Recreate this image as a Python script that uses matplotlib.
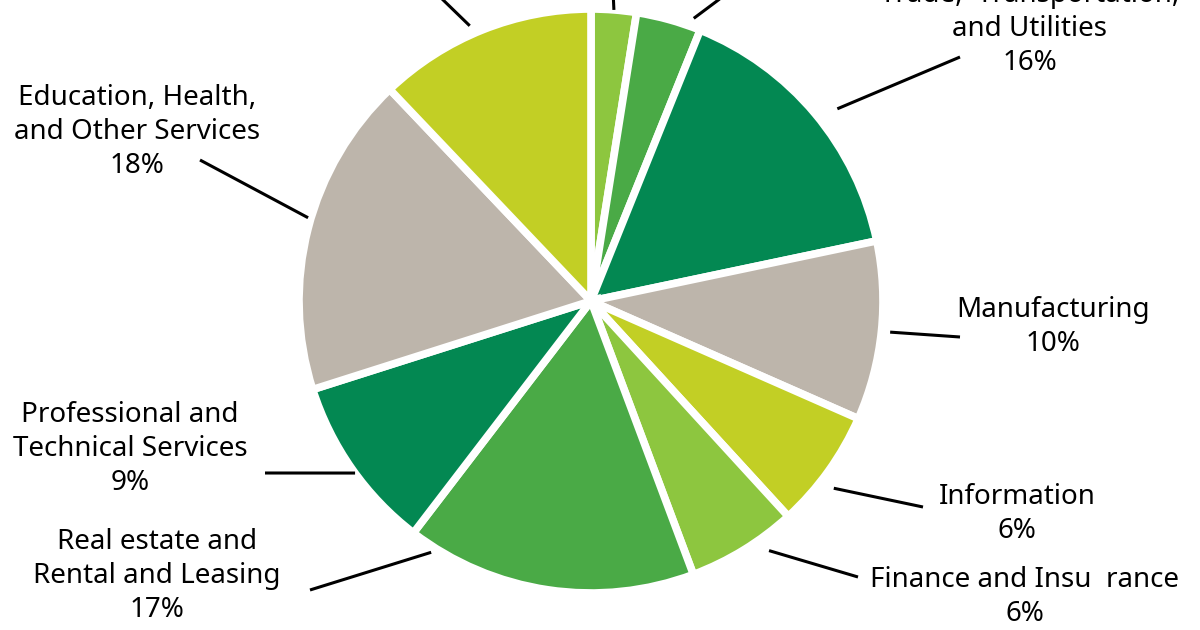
import numpy as np
import matplotlib.pyplot as plt

plt.rcParams['font.family'] = ['Noto Sans', 'DejaVu Sans']

# slices, clockwise from 12 o'clock (top three labels fall outside the crop)
sectors = ['', '',
           'Trade,  Transportation,\nand Utilities', 'Manufacturing', 'Information',
           'Finance and Insu  rance', 'Real estate and\nRental and Leasing',
           'Professional and\nTechnical Services', 'Education, Health,\nand Other Services',
           '']
shares = [2.5, 3.6, 15.6, 9.9, 6.6, 6.1, 16.1, 9.7, 17.8, 12.1]
pct_text = ['', '', '16%', '10%', '6%', '6%', '17%', '9%', '18%', '']
colors = ['#8dc63f', '#4aaa46', '#038852', '#bdb5ab', '#c2cf25',
          '#8dc63f', '#4aaa46', '#038852', '#bdb5ab', '#c2cf25']

# label layout in pixels (x, y of text centre), leader outer end, angle nudge, radius factor
label_pos = [None, None, (1030, 29), (1053, 327), (1017, 514), (1025, 597),
             (157, 576), (130, 449), (137, 132), None]
leader_end = [(613, -10), (725, -5), (960, 57), (960, 337), (923, 507), (858, 577),
              (310, 590), (265, 473), (200, 160), (438, -5)]
angle_nudge = [0, 4.5, 2, 0, 2, -4, 24, -1, 2, -2]
r_fact = [1.0, 1.03, 1.07, 1.03, 1.05, 1.05, 1.02, 1.0, 1.01, 1.03]

W, H = 1200, 630
cx, cy, R = 591, 301, 292

fig = plt.figure(figsize=(12, 6.3), dpi=100)
ax = fig.add_axes([0, 0, 1, 1])

wedges, _ = ax.pie(shares, colors=colors, startangle=90, counterclock=False,
                   center=(cx, H - cy), radius=R,
                   wedgeprops=dict(edgecolor='white', linewidth=5.5))
ax.set_xlim(0, W)
ax.set_ylim(0, H)
ax.set_aspect('equal')
ax.axis('off')

for i, w in enumerate(wedges):
    mid = np.deg2rad((w.theta1 + w.theta2) / 2 - angle_nudge[i])
    r_in = R * r_fact[i]
    x0 = cx + r_in * np.cos(mid)
    y0 = (H - cy) + r_in * np.sin(mid)
    end = leader_end[i]
    ax.plot([x0, end[0]], [y0, H - end[1]], color='black', lw=2.2,
            solid_capstyle='butt', clip_on=False)
    if label_pos[i] is not None:
        pos = label_pos[i]
        ax.text(pos[0], H - pos[1], f'{sectors[i]}\n{pct_text[i]}', ha='center',
                va='center', fontsize=20, linespacing=1.28, color='black')

fig.savefig('out.png', dpi=100)
